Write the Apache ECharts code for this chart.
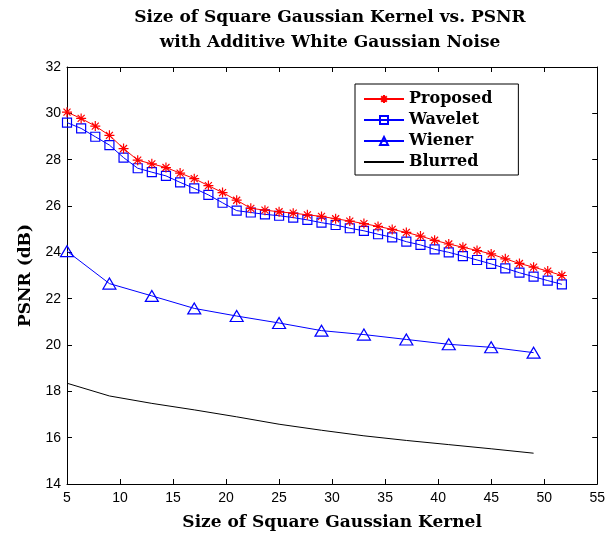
<!DOCTYPE html>
<html><head><meta charset="utf-8">
<script src="https://cdn.jsdelivr.net/npm/echarts@6/dist/echarts.min.js"></script>
<style>html,body{margin:0;padding:0;background:#fff}#c{width:608px;height:536px}</style>
</head><body><div id="c"></div>
<script>
// Kernel sizes for Proposed / Wavelet (step 4/3 from 5)
const kernelFine = Array.from({length:36},(_,k)=>+(5 + k*4/3).toFixed(3));
// Kernel sizes for Wiener / Blurred
const kernelCoarse = [5,9,13,17,21,25,29,33,37,41,45,49];
const proposed = [30.05,29.78,29.45,29.05,28.48,27.98,27.82,27.66,27.42,27.18,26.88,26.58,26.25,
  25.9,25.82,25.75,25.69,25.62,25.55,25.45,25.35,25.24,25.12,24.99,24.86,24.7,
  24.52,24.36,24.22,24.08,23.93,23.72,23.52,23.36,23.19,23.0];
const wavelet = [29.6,29.35,28.99,28.63,28.09,27.63,27.46,27.3,27.02,26.76,26.48,26.14,25.8,
  25.72,25.64,25.58,25.5,25.4,25.28,25.18,25.04,24.93,24.78,24.65,24.46,24.32,
  24.13,24.0,23.84,23.67,23.5,23.31,23.12,22.95,22.78,22.62];
const wiener = [24.05,22.65,22.12,21.58,21.25,20.95,20.62,20.45,20.24,20.03,19.9,19.67];
const blurred = [18.35,17.8,17.48,17.2,16.9,16.58,16.32,16.08,15.88,15.7,15.52,15.33];
const titleLines = ['Size of Square Gaussian Kernel vs. PSNR','with Additive White Gaussian Noise'];
const xTicks = {min:5,max:55,interval:5};
const yTicks = {min:14,max:32,interval:2};

const pair = (xs,ys)=>xs.map((x,i)=>[x,ys[i]]);
const serif = '"DejaVu Serif", serif';
const sans = '"Liberation Sans", Arial, sans-serif';
const star = 'path://M0,-10L0,10M-10,0L10,0M-7,-7L7,7M-7,7L7,-7';

const chart = echarts.init(document.getElementById('c'));
const axisCommon = {
  axisLine:{show:true,onZero:false,lineStyle:{color:'#000',width:1}},
  axisTick:{show:true,inside:true,length:5,lineStyle:{color:'#000'}},
  splitLine:{show:false}
};
const nameStyle = {fontFamily:serif,fontWeight:'bold',fontSize:17,color:'#000'};
chart.setOption({
  animation:false,
  backgroundColor:'#fff',
  graphic:[{type:'text',x:330,y:5,style:{text:titleLines.join('\n'),
    font:'bold 17px '+serif,fill:'#000',textAlign:'center',lineHeight:25}}],
  grid:{left:67,right:9,top:67,bottom:52},
  legend:{orient:'vertical',left:355,top:84,backgroundColor:'#fff',borderColor:'#000',borderWidth:1,
    padding:[6,26,4,8],itemWidth:40,itemHeight:10,itemGap:3,
    textStyle:{fontFamily:serif,fontWeight:'bold',fontSize:16,color:'#000',lineHeight:18},
    data:['Proposed','Wavelet','Wiener',
      {name:'Blurred',itemStyle:{color:'rgba(0,0,0,0)',borderColor:'rgba(0,0,0,0)',borderWidth:0}}]},
  xAxis:[
    Object.assign({type:'value',min:xTicks.min,max:xTicks.max,interval:xTicks.interval,
      name:'Size of Square Gaussian Kernel',nameLocation:'middle',nameGap:30,
      nameTextStyle:nameStyle,
      axisLabel:{fontFamily:sans,fontSize:14,color:'#000',margin:7}},axisCommon),
    Object.assign({type:'value',position:'top',min:xTicks.min,max:xTicks.max,interval:xTicks.interval,
      axisLabel:{show:false}},axisCommon)
  ],
  yAxis:[
    Object.assign({type:'value',min:yTicks.min,max:yTicks.max,interval:yTicks.interval,
      name:'PSNR (dB)',nameLocation:'middle',nameGap:33,
      nameTextStyle:nameStyle,
      axisLabel:{fontFamily:sans,fontSize:14,color:'#000',margin:6}},axisCommon),
    Object.assign({type:'value',position:'right',min:yTicks.min,max:yTicks.max,interval:yTicks.interval,
      axisLabel:{show:false}},axisCommon)
  ],
  series:[
    {name:'Proposed',type:'line',data:pair(kernelFine,proposed),symbol:star,symbolSize:10,
      lineStyle:{color:'#ff0000',width:1},itemStyle:{color:'#ff0000',borderColor:'#ff0000',borderWidth:1.2},z:3},
    {name:'Wavelet',type:'line',data:pair(kernelFine,wavelet),symbol:'rect',symbolSize:9,
      lineStyle:{color:'#0000ff',width:1},itemStyle:{color:'rgba(255,255,255,0)',borderColor:'#0000ff',borderWidth:1.2},z:2},
    {name:'Wiener',type:'line',data:pair(kernelCoarse,wiener),symbol:'triangle',symbolSize:[13,11],
      lineStyle:{color:'#0000ff',width:1},itemStyle:{color:'rgba(255,255,255,0)',borderColor:'#0000ff',borderWidth:1.2}},
    {name:'Blurred',type:'line',data:pair(kernelCoarse,blurred),symbol:'none',
      lineStyle:{color:'#000',width:1},itemStyle:{color:'#000'}}
  ]
});
</script></body></html>
